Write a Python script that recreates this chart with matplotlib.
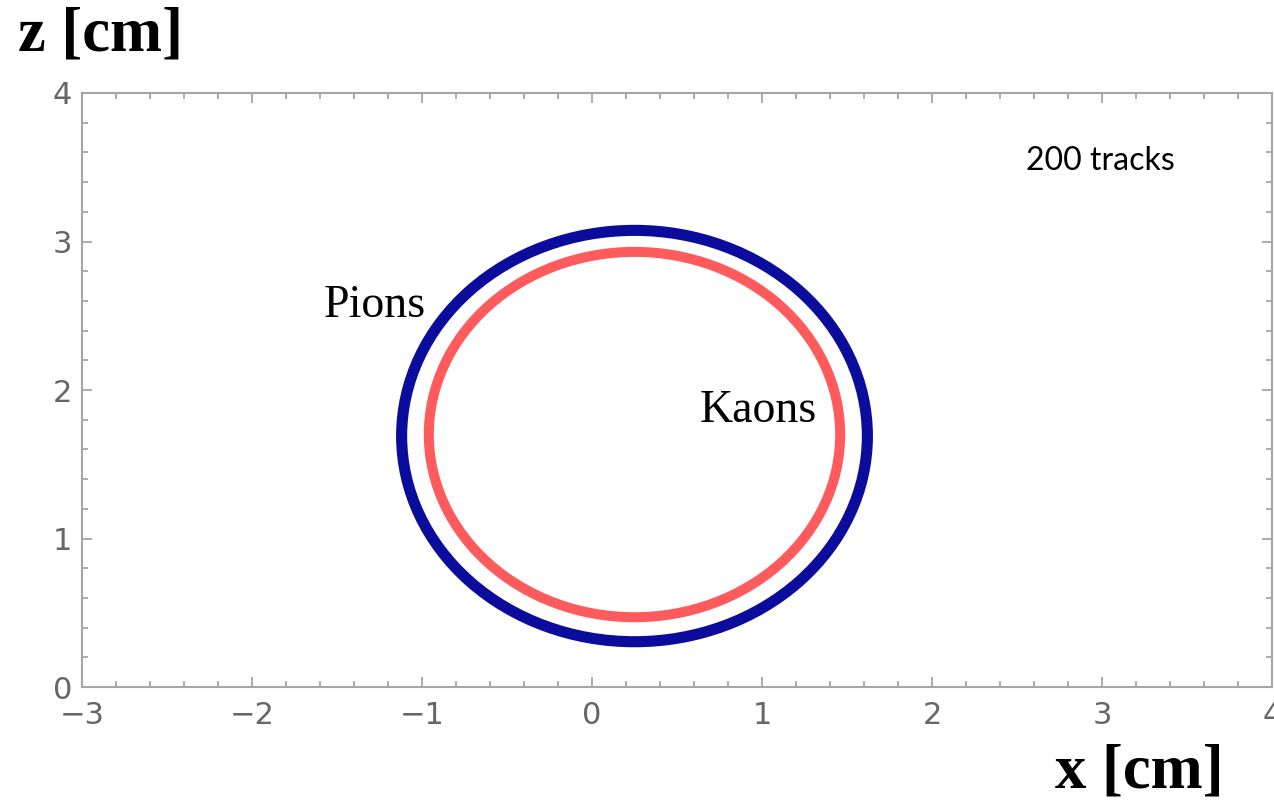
import matplotlib.pyplot as plt
from matplotlib.patches import Ellipse
from matplotlib.ticker import MultipleLocator

# Ring fits for the two particle species (x, z in cm)
species = ["Pions", "Kaons"]
centre_x = [0.25, 0.25]
centre_z = [1.69, 1.70]
ring_width = [2.74, 2.42]
ring_height = [2.77, 2.46]

# Where the species names sit
label_x = [-1.28, 0.98]
label_z = [2.57, 1.86]

n_tracks = 200

colours = ["#0b0b9c", "#ff5a5c"]
widths = [8.0, 7.2]

fig = plt.figure(figsize=(12.74, 8.01), dpi=100)
ax = fig.add_axes([0.0644, 0.1423, 0.9340, 0.7416])

for cx, cz, w, h, c, lw in zip(centre_x, centre_z, ring_width, ring_height, colours, widths):
    ax.add_patch(Ellipse((cx, cz), w, h, fill=False, edgecolor=c, linewidth=lw))

for name, lx, lz in zip(species, label_x, label_z):
    ax.text(lx, lz, name, fontsize=33, family="Liberation Serif",
            ha="center", va="center")

ax.text(2.99, 3.54, f"{n_tracks} tracks", fontsize=23, family="Lato",
        ha="center", va="center")

ax.set_xlim(-3, 4)
ax.set_ylim(0, 4)
ax.xaxis.set_major_locator(MultipleLocator(1))
ax.xaxis.set_minor_locator(MultipleLocator(0.2))
ax.yaxis.set_major_locator(MultipleLocator(1))
ax.yaxis.set_minor_locator(MultipleLocator(0.2))

frame = "#a6a6a6"
for s in ax.spines.values():
    s.set_color(frame)
    s.set_linewidth(1.5)
ax.tick_params(which="both", direction="in", top=True, right=True,
               color=frame, labelcolor="#666666", labelsize=22, width=1.3)
ax.tick_params(which="major", length=7)
ax.tick_params(which="minor", length=4)
ax.tick_params(axis="x", which="major", pad=10)
ax.tick_params(axis="y", which="major", pad=7)
for t in ax.get_xticklabels() + ax.get_yticklabels():
    t.set_family("DejaVu Sans")

fig.text(0.014, 0.956, "z [cm]", fontsize=45, fontweight="bold",
         family="Liberation Serif", va="center", ha="left")
fig.text(0.828, 0.036, "x [cm]", fontsize=45, fontweight="bold",
         family="Liberation Serif", va="center", ha="left")

fig.savefig("out.png", dpi=100)
